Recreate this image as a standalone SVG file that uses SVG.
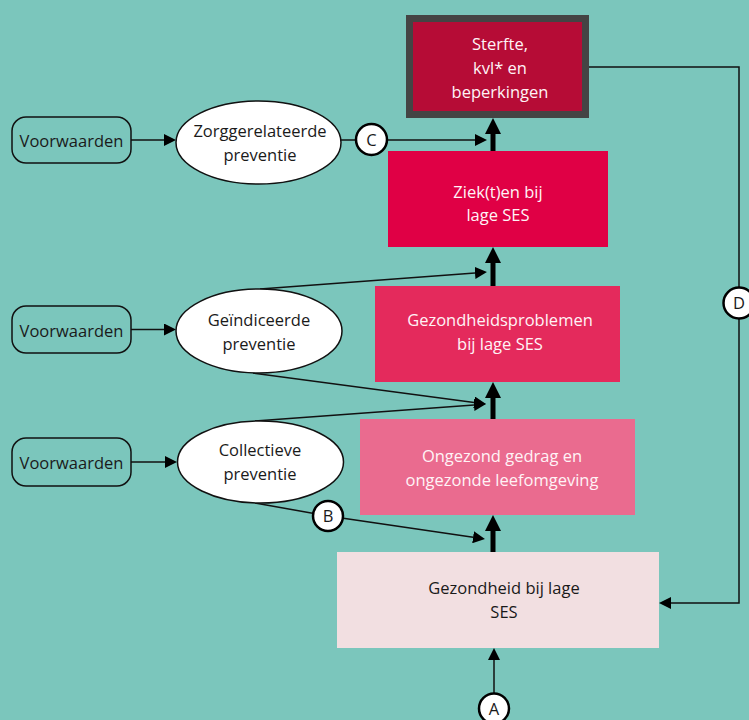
<svg xmlns="http://www.w3.org/2000/svg" width="749" height="720" viewBox="0 0 749 720">
<defs>
<style>
text{font-family:"Open Sans","Noto Sans","DejaVu Sans",sans-serif;font-size:16.5px;text-anchor:middle}
.lt{fill:#fff3f6}
.dk{fill:#1a1a1a}
.ell{fill:#ffffff;stroke:#111;stroke-width:1.5}
.vw{fill:none;stroke:#111;stroke-width:1.5}
.cir{fill:#ffffff;stroke:#000;stroke-width:2.5}
.thin{fill:none;stroke:#111;stroke-width:1.5;marker-end:url(#ah)}
.plain{fill:none;stroke:#111;stroke-width:1.5}
.thick{fill:none;stroke:#000;stroke-width:5;marker-end:url(#ahT)}
</style>
<marker id="ah" markerUnits="userSpaceOnUse" markerWidth="12" markerHeight="12" refX="0" refY="6" orient="auto" viewBox="0 0 12 12">
<path d="M0,0 L12,6 L0,12 z" fill="#000"/>
</marker>
<marker id="ahT" markerUnits="userSpaceOnUse" markerWidth="16" markerHeight="16" refX="0" refY="8" orient="auto" viewBox="0 0 16 16">
<path d="M0,0 L16,8 L0,16 z" fill="#000"/>
</marker>
</defs>
<rect x="0" y="0" width="749" height="720" fill="#7bc6bc"/>

<g id="connectors">
<line class="thin" x1="131" y1="140" x2="164" y2="140"/>
<line class="thin" x1="131" y1="329.5" x2="164" y2="329.5"/>
<line class="thin" x1="131" y1="462" x2="165" y2="462"/>
<line class="plain" x1="341" y1="140" x2="356" y2="140"/>
<line class="thin" x1="388" y1="140" x2="475" y2="140"/>
<line class="thin" x1="260" y1="289" x2="475" y2="272.9"/>
<line class="thin" x1="253" y1="373" x2="474.1" y2="402.4"/>
<line class="thin" x1="255" y1="421" x2="474" y2="404.9"/>
<line class="plain" x1="255" y1="503" x2="328" y2="516"/>
<line class="thin" x1="328" y1="516" x2="473.1" y2="537.3"/>
<line class="thin" x1="494" y1="694" x2="494" y2="660"/>
<line class="thick" x1="493" y1="552" x2="493" y2="531"/>
<line class="thick" x1="493" y1="419" x2="493" y2="398"/>
<line class="thick" x1="493" y1="286" x2="493" y2="263"/>
<line class="thick" x1="493" y1="151" x2="493" y2="134"/>
<polyline class="thin" points="589,67 739,67 739,603 671,603"/>
</g>

<g id="sterfte">
<rect x="409.5" y="18.5" width="176" height="96" fill="#b60c36" stroke="#444444" stroke-width="7"/>
<text class="lt" x="500" y="50">Sterfte,</text>
<text class="lt" x="500" y="74">kvl* en</text>
<text class="lt" x="500" y="98">beperkingen</text>
</g>

<g id="ziekten">
<rect x="388" y="151" width="220" height="96" fill="#e00045"/>
<text class="lt" x="498" y="198">Ziek(t)en bij</text>
<text class="lt" x="498" y="221">lage SES</text>
</g>

<g id="gezondheidsproblemen">
<rect x="375" y="286" width="245" height="96" fill="#e42a5c"/>
<text class="lt" x="500" y="326">Gezondheidsproblemen</text>
<text class="lt" x="500" y="350">bij lage SES</text>
</g>

<g id="ongezond">
<rect x="360" y="419" width="275" height="96" fill="#ea6b8f"/>
<text class="lt" x="502" y="462">Ongezond gedrag en</text>
<text class="lt" x="502" y="486">ongezonde leefomgeving</text>
</g>

<g id="gezondheid">
<rect x="337" y="552" width="322" height="96" fill="#f2dfe1"/>
<text class="dk" x="504" y="594">Gezondheid bij lage</text>
<text class="dk" x="504" y="618">SES</text>
</g>

<g id="voorwaarden1">
<rect class="vw" x="12" y="117" width="119" height="46" rx="14"/>
<text class="dk" x="71.5" y="147">Voorwaarden</text>
</g>
<g id="voorwaarden2">
<rect class="vw" x="12" y="306" width="119" height="47" rx="14"/>
<text class="dk" x="71.5" y="336.5">Voorwaarden</text>
</g>
<g id="voorwaarden3">
<rect class="vw" x="12" y="438" width="119" height="48" rx="14"/>
<text class="dk" x="71.5" y="469">Voorwaarden</text>
</g>

<g id="zorggerelateerde">
<ellipse class="ell" cx="258.5" cy="142.5" rx="82.5" ry="41.5"/>
<text class="dk" x="260" y="137">Zorggerelateerde</text>
<text class="dk" x="260" y="161">preventie</text>
</g>
<g id="geindiceerde">
<ellipse class="ell" cx="259" cy="331" rx="83" ry="42"/>
<text class="dk" x="259" y="326">Geïndiceerde</text>
<text class="dk" x="259" y="350">preventie</text>
</g>
<g id="collectieve">
<ellipse class="ell" cx="260.5" cy="462" rx="83" ry="41"/>
<text class="dk" x="260" y="456">Collectieve</text>
<text class="dk" x="260" y="480">preventie</text>
</g>

<g id="circleA">
<circle class="cir" cx="494" cy="708.5" r="15"/>
<text class="dk" x="494" y="714.5">A</text>
</g>
<g id="circleB">
<circle class="cir" cx="328" cy="516" r="15"/>
<text class="dk" x="328" y="522">B</text>
</g>
<g id="circleC">
<circle class="cir" cx="371.5" cy="139.5" r="15.5"/>
<text class="dk" x="371.5" y="145.5">C</text>
</g>
<g id="circleD">
<circle class="cir" cx="739" cy="303" r="15.5"/>
<text class="dk" x="739" y="309">D</text>
</g>
</svg>
